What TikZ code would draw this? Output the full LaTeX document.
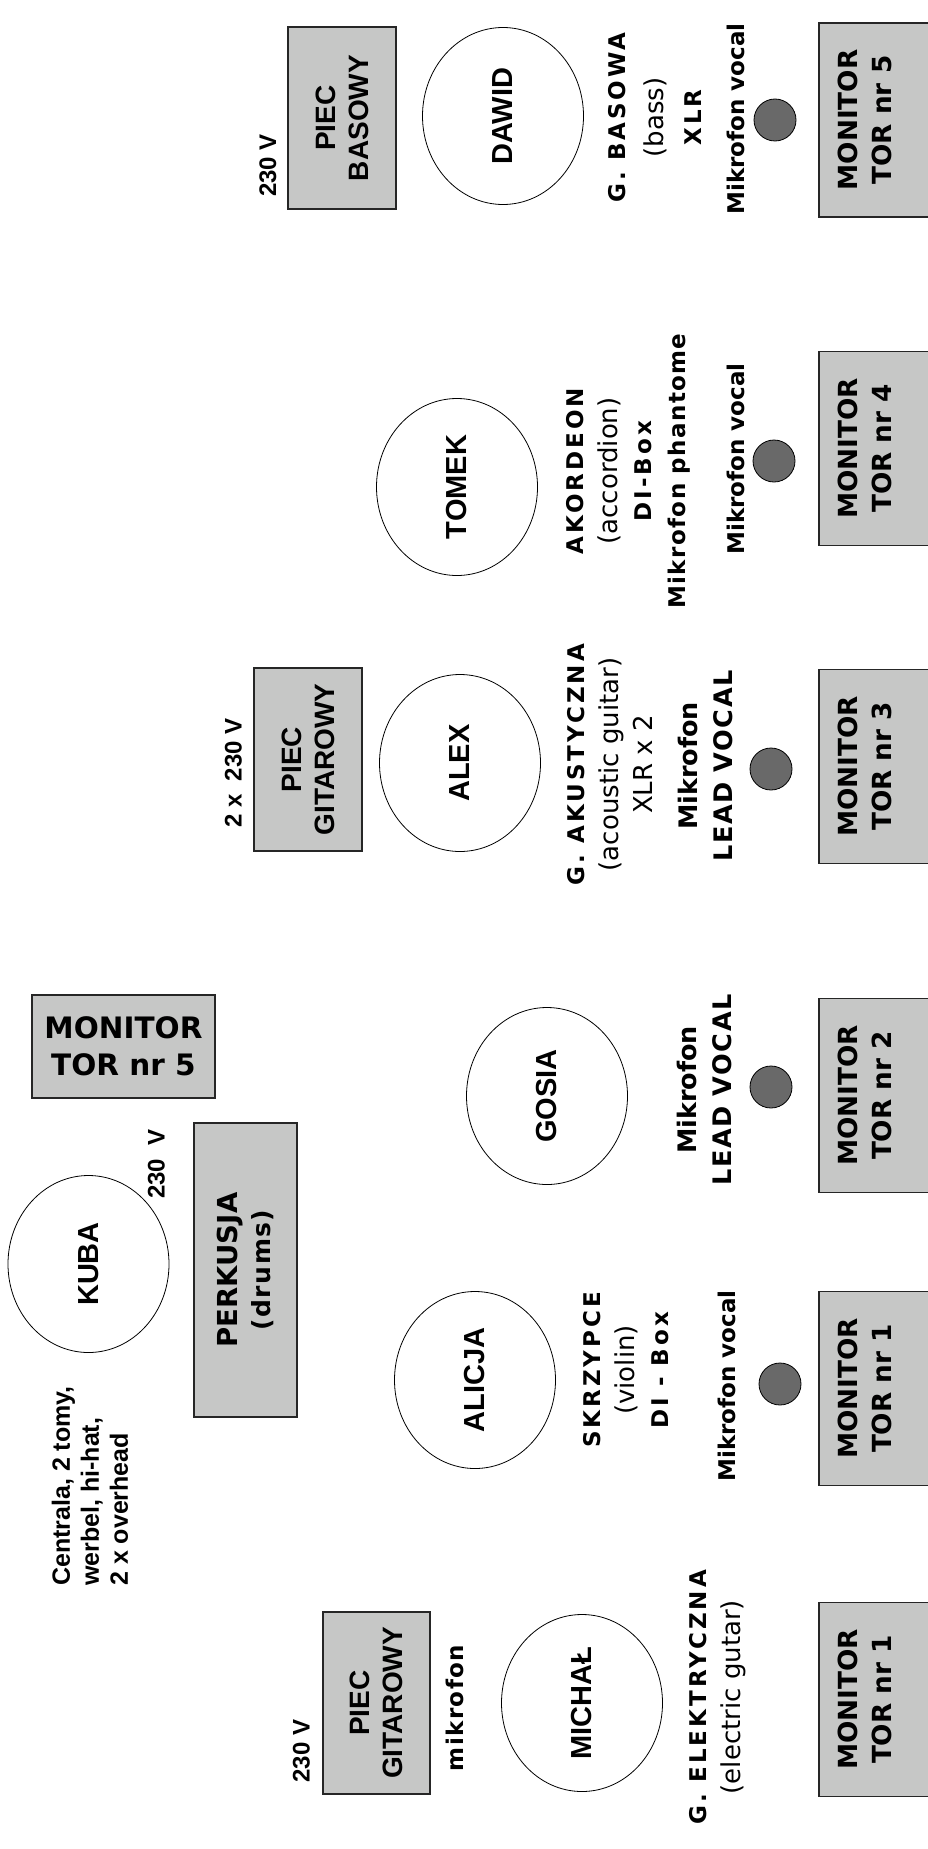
\documentclass[tikz,border=0pt]{standalone}
\usepackage{fontspec}
\setmainfont{Liberation Sans}
\newfontfamily\vfont{DejaVu Sans}
\newfontfamily\vcaps[LetterSpace=13]{DejaVu Sans}
\newfontfamily\vmid[LetterSpace=6]{DejaVu Sans}
\usepackage{tikz}
\usetikzlibrary{shapes.geometric}
\definecolor{ampgray}{RGB}{198,199,198}
\definecolor{micgray}{RGB}{105,105,105}
\newcommand\regtxt[1]{{\vfont\fontsize{26}{34}\selectfont\mdseries #1}}
\newcommand\plaintxt[1]{{\vfont #1}}
\newcommand\midtxt[1]{{\vmid #1}}

\begin{document}
\begin{tikzpicture}[x=1pt, y=-1pt,
    person/.style={ellipse, draw, line width=0.8pt, fill=white, rotate=90,
        minimum width=177, minimum height=161, inner sep=0,
        font=\fontsize{29}{33}\selectfont\bfseries},
    boxed/.style={draw=black!85, line width=1.2pt, fill=ampgray, inner sep=0,
        align=center, font=\fontsize{28}{33}\selectfont\bfseries},
    ampbox/.style={boxed, rotate=90},
    note/.style={rotate=90, inner sep=0, align=center,
        font=\vcaps\fontsize{23}{34}\selectfont\bfseries},
    lead/.style={note, font=\vfont\fontsize{25.5}{35}\selectfont\bfseries},
    volt/.style={rotate=90, inner sep=0, font=\fontsize{24}{28}\selectfont\bfseries},
    mic/.style={circle, draw, line width=0.8pt, fill=micgray, minimum size=42, inner sep=0},
    montext/.style={rotate=90, inner sep=0, align=center,
        font=\vfont\fontsize{26.3}{34.5}\selectfont\bfseries}]

\useasboundingbox (0,0) rectangle (927,1849);

% Monitory
\foreach \n/\y/\t in {5/120/5, 4/448.5/4, 3/766.5/3, 2/1095.5/2, 1/1388.5/1, 0/1699.5/1}{
    \node[ampbox, minimum width=194, minimum height=126] (monbox\n) at (882,\y) {};
    \node[montext] (mon\n) at (865,\y) {MONITOR\\TOR nr \t};
}

% Mikrofony
\foreach \n/\x/\y in {5/775/120, 4/774/461, 3/771/769, 2/771/1087, 1/780/1384}{
    \node[mic] (mic\n) at (\x,\y) {};
}

% Muzycy
\node[person] (dawid) at (503,116) {DAWID};
\node[person] (tomek) at (457,487) {TOMEK};
\node[person] (alex) at (460,763) {ALEX};
\node[person] (gosia) at (547,1096) {GOSIA};
\node[person] (kuba) at (88.5,1264) {KUBA};
\node[person] (alicja) at (475,1380) {ALICJA};
\node[person] (michal) at (582,1703) {MICHAŁ};

% Piece i perkusja
\node[ampbox, minimum width=182, minimum height=108] (piecbas) at (342,118) {PIEC\\BASOWY};
\node[ampbox, minimum width=183, minimum height=108] (piecgit) at (308,759.5) {PIEC\\GITAROWY};
\node[ampbox, minimum width=182, minimum height=107] (piecgit2) at (376.5,1703) {PIEC\\GITAROWY};
\node[ampbox, minimum width=294, minimum height=103,
    font=\vfont\fontsize{27.5}{33}\selectfont\bfseries] (perkusja) at (245.5,1270)
    {PERKUSJA\\\vmid\fontsize{25}{33}\selectfont (drums)};
\node[boxed, minimum width=183, minimum height=103,
    font=\vfont\fontsize{29.5}{37}\selectfont\bfseries] (monkuba) at (123.5,1046.5) {MONITOR\\TOR nr 5};

% Zasilanie
\node[volt] (v5) at (268,165.5) {230 V};
\node[volt] (v3) at (233.5,773) {2 x \ 230 V};
\node[volt] (vk) at (156.5,1164) {230 \ V};
\node[volt] (v0) at (301.5,1751) {230 V};

% Opisy
\node[note] (basdesc) at (655,117.5) {G. BASOWA\\[4pt]\regtxt{(bass)}\\[4pt]XLR};
\node[note] (voc5) at (736,119) {\plaintxt{Mikrofon vocal}};
\node[note] (akdesc) at (628,471)
    {AKORDEON\\\regtxt{(accordion)}\\DI-Box\\\midtxt{Mikrofon phantome}};
\node[note] (voc4) at (736,459) {\plaintxt{Mikrofon vocal}};
\node[note] (akudesc) at (610,764.5) {G. AKUSTYCZNA\\\regtxt{(acoustic guitar)}\\\regtxt{XLR x 2}};
\node[lead] (lead3) at (705,766) {Mikrofon\\\midtxt{LEAD VOCAL}};
\node[lead] (lead2) at (704,1090) {Mikrofon\\\midtxt{LEAD VOCAL}};
\node[note] (skdesc) at (626,1370) {SKRZYPCE\\\regtxt{(violin)}\\DI - Box};
\node[note] (voc1) at (727,1386) {\plaintxt{Mikrofon vocal}};
\node[note] (mik0) at (455,1708) {\midtxt{mikrofon}};
\node[note] (eldesc) at (718,1697) {G. ELEKTRYCZNA\\\regtxt{(electric gutar)}};
\node[rotate=90, anchor=west, align=left, inner sep=0,
    font=\fontsize{25}{29}\selectfont\bfseries] (centrala) at (90,1586)
    {Centrala, 2 tomy,\\werbel, hi-hat,\\2 x overhead};

\end{tikzpicture}
\end{document}
